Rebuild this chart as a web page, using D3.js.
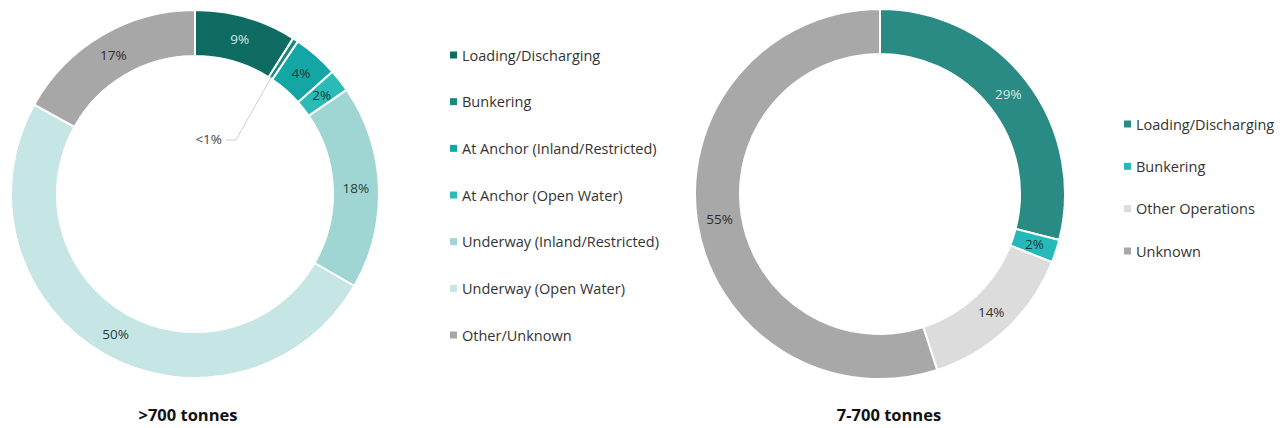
<!DOCTYPE html>
<html>
<head>
<meta charset="utf-8">
<script src="https://cdn.jsdelivr.net/npm/d3@7"></script>
<style>
  html, body { margin: 0; padding: 0; background: #fff; }
  svg { display: block; font-family: "Open Sans", "Noto Sans", sans-serif; }
</style>
</head>
<body>
<svg id="chart" width="1283" height="428"></svg>
<script>
// ---- Data ----
const leftCategories = ["Loading/Discharging", "Bunkering", "At Anchor (Inland/Restricted)", "At Anchor (Open Water)", "Underway (Inland/Restricted)", "Underway (Open Water)", "Other/Unknown"];
const leftValues = [9, 0.5, 4, 2, 18, 50, 17];
const leftLabels = ["9%", "<1%", "4%", "2%", "18%", "50%", "17%"];
const leftColors = ["#0e6b62", "#1a8a7f", "#14a6a4", "#2bbab6", "#9fd5d3", "#c6e5e5", "#a7a7a7"];
const leftLabelColors = ["#cfe8e4", "#444", "#1d3b3a", "#1d3b3a", "#2b3b3b", "#2b3b3b", "#2e2e2e"];
const leftTitle = ">700 tonnes";

const rightCategories = ["Loading/Discharging", "Bunkering", "Other Operations", "Unknown"];
const rightValues = [29, 2, 14, 55];
const rightLabels = ["29%", "2%", "14%", "55%"];
const rightColors = ["#2a8a84", "#25b9b9", "#dcdcdc", "#a8a8a8"];
const rightLabelColors = ["#d6ece9", "#1d3b3a", "#333", "#2e2e2e"];
const rightTitle = "7-700 tonnes";

const svg = d3.select("#chart");

function donut(cfg) {
  const g = svg.append("g").attr("transform", `translate(${cfg.cx},${cfg.cy})`);
  const pie = d3.pie().sort(null).value(d => d)(cfg.values);
  const arc = d3.arc().innerRadius(cfg.ri).outerRadius(cfg.ro);
  const mid = d3.arc().innerRadius((cfg.ri + cfg.ro) / 2).outerRadius((cfg.ri + cfg.ro) / 2);
  g.selectAll("path.slice").data(pie).join("path")
    .attr("class", "slice")
    .attr("d", arc)
    .attr("fill", (d, i) => cfg.colors[i])
    .attr("stroke", "#fff")
    .attr("stroke-width", 2);
  pie.forEach((d, i) => {
    if (cfg.values[i] < 1) {
      const a = (d.startAngle + d.endAngle) / 2;
      const r0 = cfg.ri + 2;
      const x0 = r0 * Math.sin(a), y0 = -r0 * Math.cos(a);
      const lx = cfg.smallLabel[0], ly = cfg.smallLabel[1];
      g.append("polyline")
        .attr("points", `${x0},${y0} ${lx + 14},${ly - 4} ${lx + 4},${ly - 4}`)
        .attr("fill", "none").attr("stroke", "#cfcfcf").attr("stroke-width", 1);
      g.append("text").attr("x", lx).attr("y", ly)
        .attr("text-anchor", "end").attr("font-size", 13.5)
        .attr("fill", cfg.labelColors[i]).text(cfg.labels[i]);
    } else {
      const c = mid.centroid(d);
      g.append("text").attr("x", c[0]).attr("y", c[1])
        .attr("text-anchor", "middle").attr("dominant-baseline", "central")
        .attr("font-size", 13.5)
        .attr("fill", cfg.labelColors[i]).text(cfg.labels[i]);
    }
  });
  svg.append("text").attr("x", cfg.titleX).attr("y", cfg.titleY)
    .attr("text-anchor", "middle").attr("font-size", 16.5).attr("font-weight", "bold")
    .attr("fill", "#111").text(cfg.title);
}

function legend(cfg) {
  const y = d3.scalePoint().domain(cfg.cats).range([cfg.y0, cfg.y1]);
  const g = svg.append("g");
  const rows = g.selectAll("g").data(cfg.cats).join("g")
    .attr("transform", d => `translate(${cfg.x},${y(d)})`);
  rows.append("rect").attr("x", 0).attr("y", -3.5).attr("width", 7).attr("height", 7)
    .attr("fill", (d, i) => cfg.colors[i]);
  rows.append("text").attr("x", 12).attr("y", 0).attr("dominant-baseline", "central")
    .attr("font-size", 14.5).attr("fill", "#333").text(d => d);
}

donut({cx: 195, cy: 194, ri: 138, ro: 184, values: leftValues, colors: leftColors,
  labels: leftLabels, labelColors: leftLabelColors, smallLabel: [27, -50],
  title: leftTitle, titleX: 188, titleY: 421});
donut({cx: 880, cy: 194, ri: 140, ro: 185, values: rightValues, colors: rightColors,
  labels: rightLabels, labelColors: rightLabelColors, smallLabel: [0, 0],
  title: rightTitle, titleX: 889, titleY: 421});

legend({x: 450, y0: 55, y1: 335, cats: leftCategories, colors: leftColors});
legend({x: 1124, y0: 124, y1: 251, cats: rightCategories, colors: rightColors});
</script>
</body>
</html>
